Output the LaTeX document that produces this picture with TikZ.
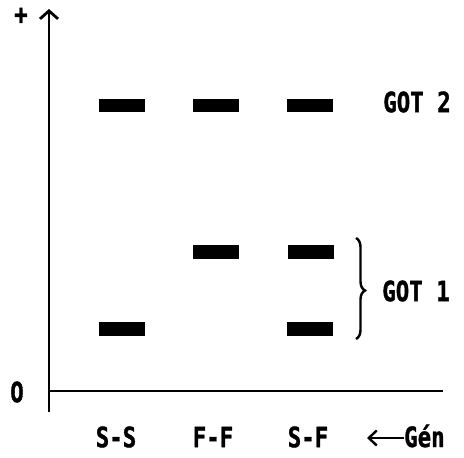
\documentclass[tikz,border=0pt]{standalone}
\usepackage{fontspec}
\newfontfamily\labelfont[FakeStretch=0.8, BoldFeatures={FakeBold=1.2}]{DejaVu Sans Mono}
\usetikzlibrary{arrows.meta,decorations.pathreplacing}
\tikzset{
  band/.style={rectangle, fill=black, draw=none, minimum width=46pt, minimum height=13.5pt, inner sep=0pt},
  lbl/.style={font=\labelfont\bfseries\fontsize{28}{28}\selectfont, inner sep=0pt},
  axis/.style={line width=2.8pt, black},
}
\begin{document}
\begin{tikzpicture}[x=1pt,y=-1pt]
\useasboundingbox (0,0) rectangle (464,458);
% axes
\coordinate (orig) at (49,391);
\coordinate (ybot) at (49,412);
\coordinate (ytop) at (49,9);
\coordinate (xend) at (443,391);
\draw[axis, -{Straight Barb[length=8pt,width=18pt]}] (ybot) -- (ytop);
\draw[axis] (orig) -- (xend);
\node[lbl] (plus) at (21,16) {+};
\node[lbl] (zero) at (17,392) {O};
% bands
\node[band] (b11) at (122,105.5) {};
\node[band] (b12) at (216,105.5) {};
\node[band] (b13) at (310,105.5) {};
\node[band] (b22) at (216,252) {};
\node[band] (b23) at (311,252) {};
\node[band] (b31) at (122,329) {};
\node[band] (b33) at (310,329) {};
% labels
\node[lbl] (got2) at (417,102) {GOT 2};
\node[lbl] (got1) at (416,291) {GOT 1};
\node[lbl] (ss) at (116,437) {S-S};
\node[lbl] (ff) at (213,437) {F-F};
\node[lbl] (sf) at (308,437) {S-F};
\node[lbl, anchor=west] (gen) at (404,436) {Gén};
\coordinate (genend) at (367,438);
\draw[line width=2.4pt, -{Straight Barb[length=8pt,width=15pt]}] (gen.west|-genend) -- (genend);
% brace
\coordinate (brtop) at (356,238);
\coordinate (brbot) at (356,339);
\draw[line width=2.4pt, decorate, decoration={brace, amplitude=9pt, raise=0pt, aspect=0.52}] (brtop) -- (brbot);
\end{tikzpicture}
\end{document}
